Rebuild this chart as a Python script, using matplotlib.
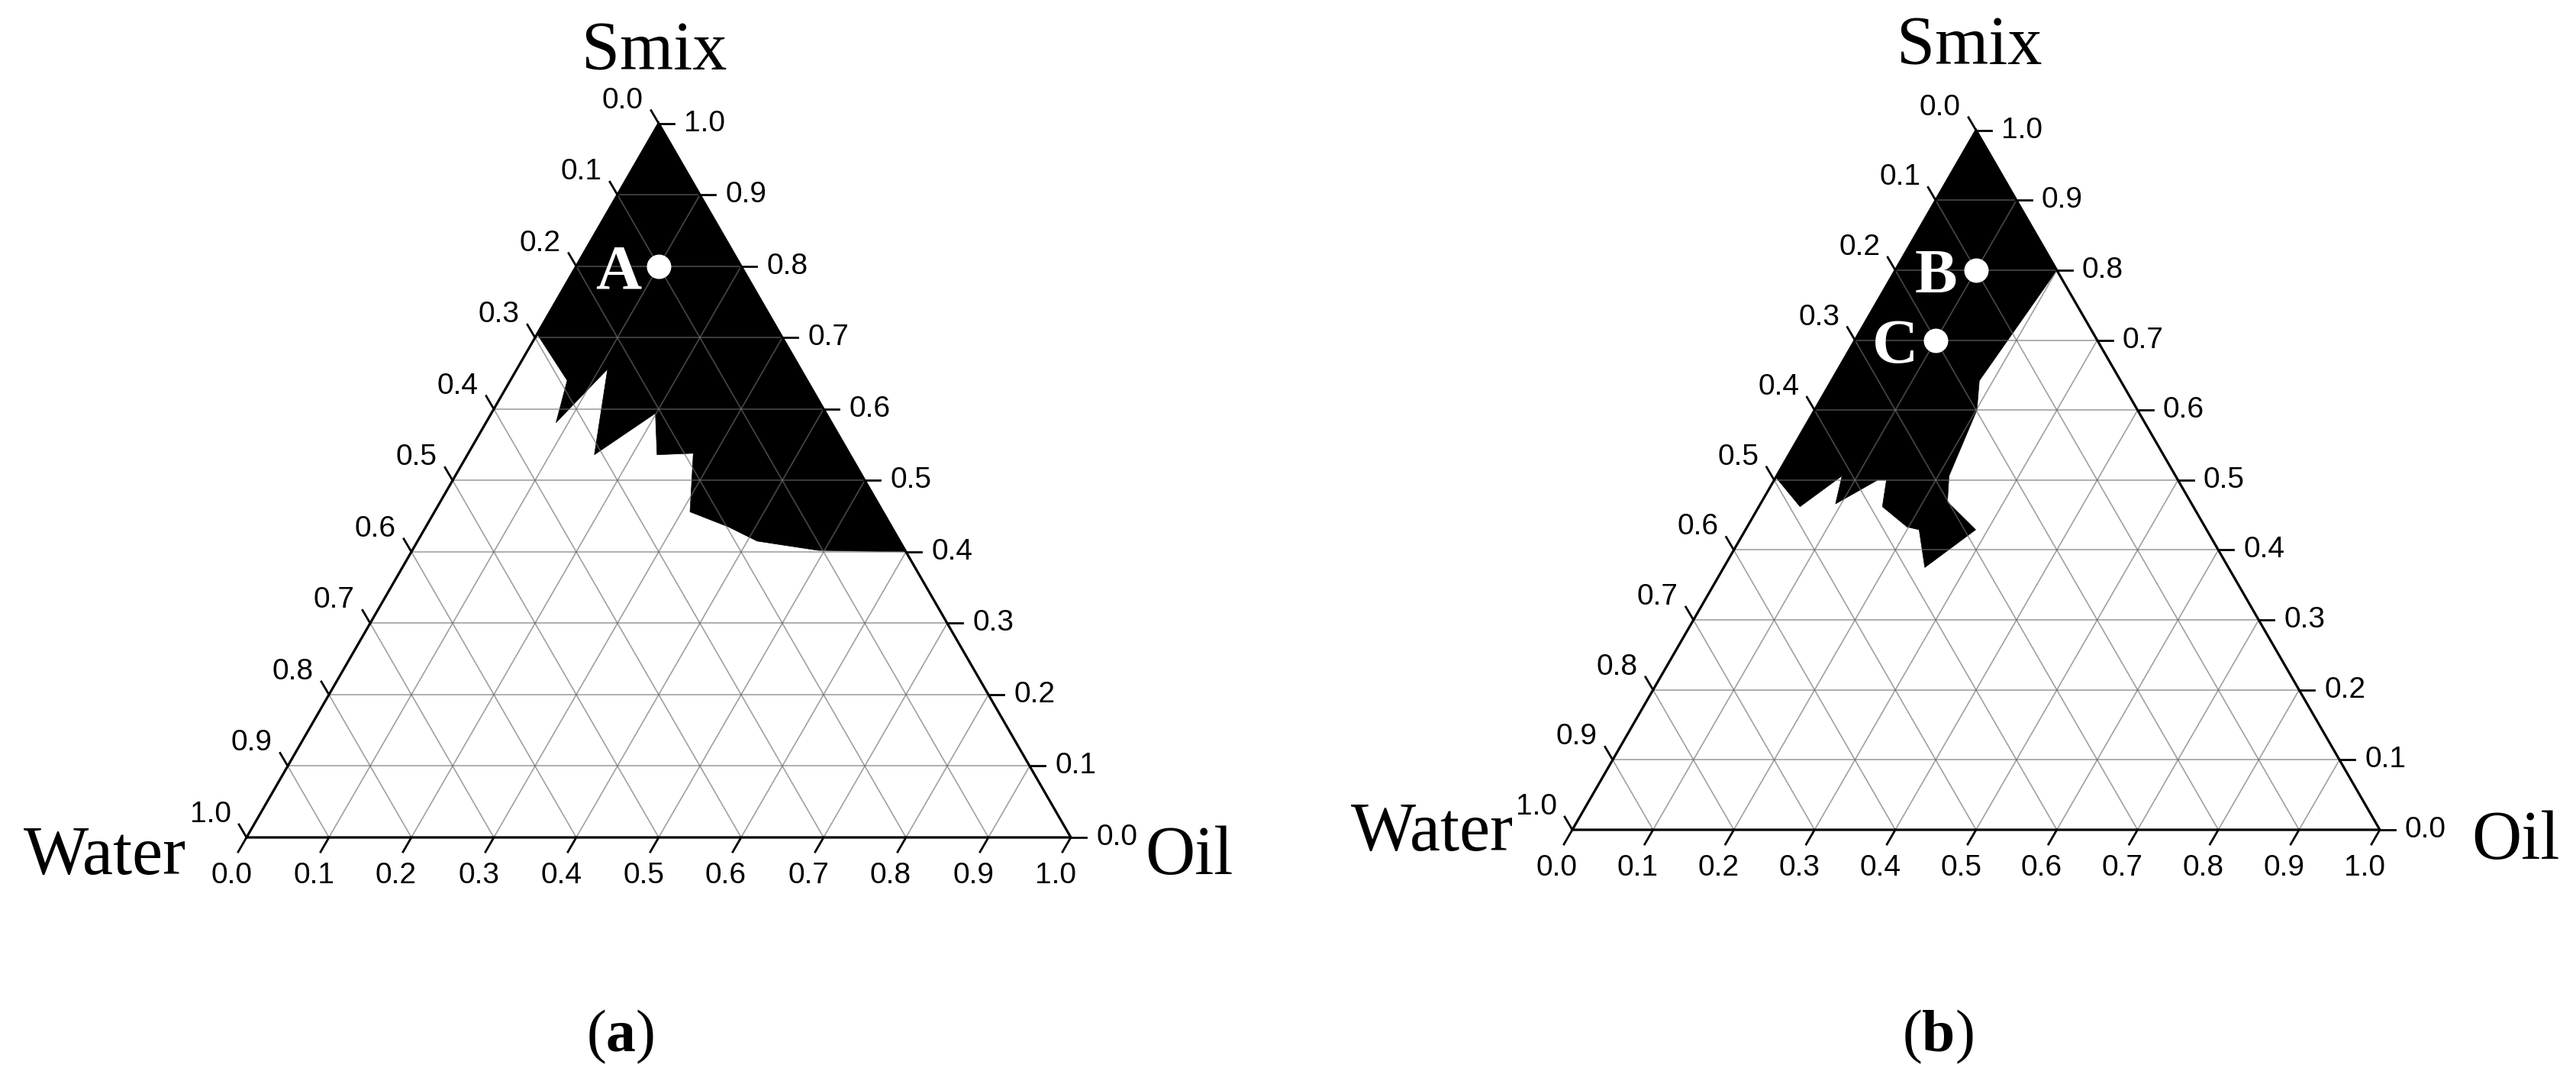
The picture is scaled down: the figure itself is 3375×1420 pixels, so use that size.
import numpy as np
import matplotlib
matplotlib.use("Agg")
import matplotlib.pyplot as plt
from matplotlib.patches import Polygon

plt.rcParams["mathtext.fontset"] = "custom"
plt.rcParams["mathtext.rm"] = "Liberation Serif"
plt.rcParams["mathtext.bf"] = "Liberation Serif:bold"

# compositions, as (Smix, Oil) fractions; Water = 1 - Smix - Oil
region_a_smix = [1.0, 0.40, 0.402, 0.415, 0.435, 0.456, 0.538, 0.536, 0.594, 0.536, 0.656, 0.581, 0.640, 0.705]
region_a_oil = [0.0, 0.60, 0.4925, 0.412, 0.367, 0.310, 0.273, 0.230, 0.199, 0.154, 0.110, 0.085, 0.069, 0.0]

region_b_smix = [1.0, 0.80, 0.642, 0.600, 0.506, 0.469, 0.429, 0.375, 0.429, 0.433, 0.462, 0.500, 0.500,
                 0.466, 0.506, 0.462, 0.504]
region_b_oil = [0.0, 0.20, 0.183, 0.201, 0.2135, 0.230, 0.285, 0.249, 0.215, 0.198, 0.153, 0.139, 0.128,
                0.093, 0.081, 0.051, 0.0]

points_a_names = ["A"]
points_a_smix = [0.8]
points_a_oil = [0.1]

points_b_names = ["B", "C"]
points_b_smix = [0.8, 0.7]
points_b_oil = [0.1, 0.1]

ticks = [0.0, 0.1, 0.2, 0.3, 0.4, 0.5, 0.6, 0.7, 0.8, 0.9, 1.0]
tick_labels = ["0.0", "0.1", "0.2", "0.3", "0.4", "0.5", "0.6", "0.7", "0.8", "0.9", "1.0"]

FW, FH = 3375, 1420
R3 = np.sqrt(3) / 2
SERIF = "Liberation Serif"
SANS = "Liberation Sans"


def tern(s, o):
    s = np.asarray(s, dtype=float)
    o = np.asarray(o, dtype=float)
    return o + s / 2, s * R3


def draw_panel(bl, width, smix, oil, p_names, p_smix, p_oil, name_offsets, caption):
    ax = fig.add_axes([bl[0] / FW, (FH - bl[1]) / FH, width / FW, width * R3 / FH])
    ax.set_xlim(0, 1)
    ax.set_ylim(0, R3)
    ax.axis("off")
    px = 1.0 / width  # one pixel in data units

    # phase region
    x, y = tern(smix, oil)
    ax.add_patch(Polygon(np.column_stack([x, y]), closed=True, facecolor="black",
                         edgecolor="black", lw=0.5, zorder=1))

    # grid
    for v in ticks[1:-1]:
        for (s0, o0), (s1, o1) in [((v, 0), (v, 1 - v)),
                                   ((0, v), (1 - v, v)),
                                   ((0, 1 - v), (1 - v, 0))]:
            gx, gy = tern([s0, s1], [o0, o1])
            ax.plot(gx, gy, color="#6e6e6e", alpha=0.65, lw=1.2, zorder=2)

    # frame
    fx, fy = tern([0, 0, 1, 0], [0, 1, 0, 0])
    ax.plot(fx, fy, color="black", lw=2.3, zorder=4, clip_on=False, solid_joinstyle="miter")

    # ticks and labels
    for t, lab in zip(ticks, tick_labels):
        # bottom (Oil)
        bx, by = tern(0, t)
        ax.plot([bx, bx - 11 * px], [by, by - 19 * px], color="black", lw=2, clip_on=False, zorder=4)
        ax.annotate(lab, (bx, by), xytext=(-20, -50), textcoords="offset pixels", ha="center",
                    va="center", family=SANS, fontsize=28, annotation_clip=False)
        # left (Water)
        lx, ly = tern(1 - t, 0)
        ax.plot([lx, lx - 10 * px], [ly, ly + 17 * px], color="black", lw=2, clip_on=False, zorder=4)
        ax.annotate(lab, (lx, ly), xytext=(-47, 30), textcoords="offset pixels", ha="center",
                    va="center", family=SANS, fontsize=28, annotation_clip=False)
        # right (Smix)
        rx, ry = tern(t, 1 - t)
        ax.plot([rx, rx + 20 * px], [ry, ry], color="black", lw=2, clip_on=False, zorder=4)
        ax.annotate(lab, (rx, ry), xytext=(33, 0), textcoords="offset pixels", ha="left",
                    va="center", family=SANS, fontsize=28, annotation_clip=False)

    # formulation points
    qx, qy = tern(p_smix, p_oil)
    ax.plot(qx, qy, "o", ms=22, mfc="white", mec="white", zorder=5, clip_on=False)
    for name, xx, yy in zip(p_names, qx, qy):
        ax.annotate(name, (xx, yy), xytext=(-53, -29), textcoords="offset pixels", ha="center",
                    va="baseline", color="white", family=SERIF, fontweight="bold", fontsize=60, zorder=6)

    # vertex names
    (sx, sy), (wx, wy), (ox, oy) = name_offsets
    ax.annotate("Smix", tern(1, 0), xytext=(sx, sy), textcoords="offset pixels", ha="center",
                va="baseline", family=SERIF, fontsize=65, annotation_clip=False)
    ax.annotate("Water", tern(0, 0), xytext=(wx, wy), textcoords="offset pixels", ha="right",
                va="baseline", family=SERIF, fontsize=65, annotation_clip=False)
    ax.annotate("Oil", tern(0, 1), xytext=(ox, oy), textcoords="offset pixels", ha="left",
                va="baseline", family=SERIF, fontsize=65, annotation_clip=False)

    cx = bl[0] + width / 2 - 50
    fig.text(cx / FW, 1 - 1358 / FH, "($\\mathbf{" + caption + "}$)", ha="center", va="center",
             family=SERIF, fontsize=56)


fig = plt.figure(figsize=(FW / 100, FH / 100), dpi=100)
fig.patch.set_facecolor("white")

draw_panel((323, 1097), 1080, region_a_smix, region_a_oil, points_a_names, points_a_smix, points_a_oil,
           [(-6, 70), (-79, -48), (97, -48)], "a")
draw_panel((2060, 1087), 1058, region_b_smix, region_b_oil, points_b_names, points_b_smix, points_b_oil,
           [(-9, 86), (-77, -27), (120, -38)], "b")

fig.savefig("out.png", dpi=100)
